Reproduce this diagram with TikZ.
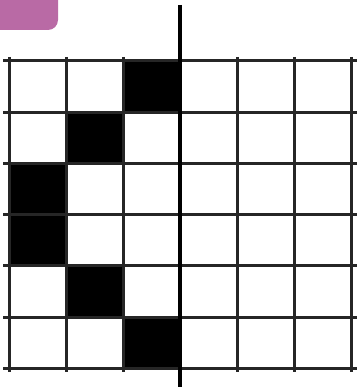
\documentclass[tikz,border=0pt]{standalone}
\usepackage{tikz}
\definecolor{tabpink}{RGB}{185,106,165}
\begin{document}
\begin{tikzpicture}[x=1pt, y=-1pt,
    gridline/.style={line width=3pt, draw=black!85},
    axisline/.style={line width=4.6pt, draw=black},
    cellfill/.style={fill=black}
]
\useasboundingbox (0,0) rectangle (357,387);
% tab in the corner
\begin{scope}
  \clip (0,0) rectangle (357,387);
  \fill[tabpink, rounded corners=10pt] (-20,-20) rectangle (58,30);
\end{scope}
% black cells
\foreach \r/\c in {0/2,1/1,2/0,3/0,4/1,5/2}
  \fill[cellfill] (9+57*\c, 61+51.2*\r) rectangle ++(57,51.2);
% grid
\foreach \i in {0,...,6}
  \draw[gridline] (3, 61+51.2*\i) -- (357, 61+51.2*\i);
\foreach \i in {0,1,2,4,5,6}
  \draw[gridline] (9+57*\i, 57) -- (9+57*\i, 372);
% middle line
\draw[axisline] (180,5) -- (180,387);
\end{tikzpicture}
\end{document}
